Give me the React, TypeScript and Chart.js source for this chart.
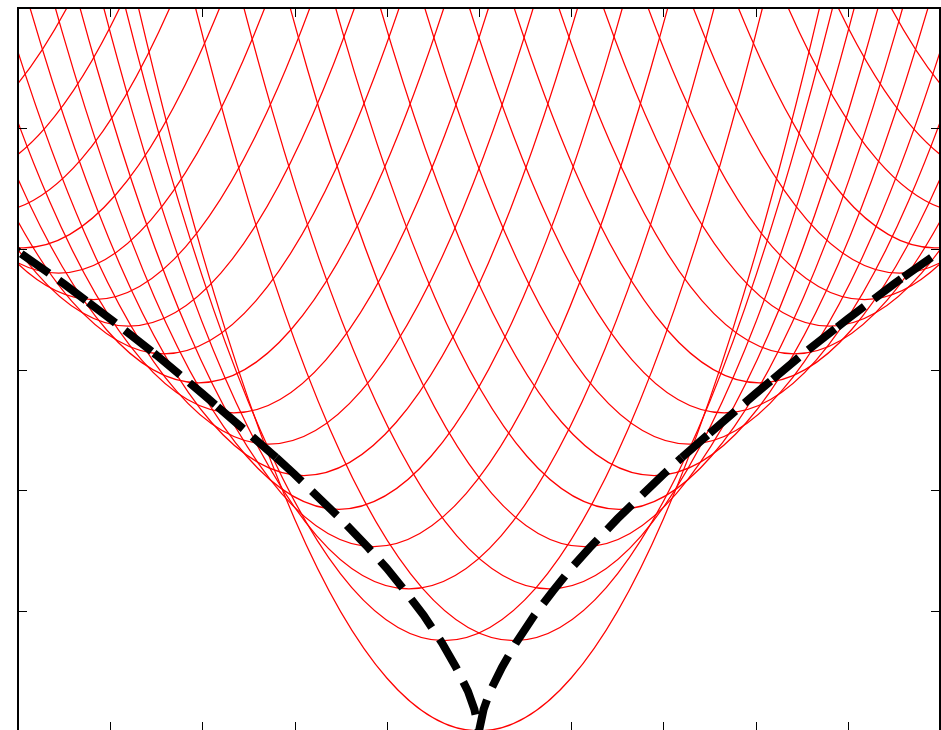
import React, { useEffect, useRef } from "react";
import { Chart, registerables } from "chart.js";

Chart.register(...registerables);

// Vertex positions of the red parabolas (left half; mirrored on the right)
const vertexX = [0, -0.38, -0.76, -1.14, -1.52, -1.9, -2.28, -2.66, -3.04, -3.42, -3.8, -4.18, -4.56, -4.94, -5.32, -5.7, -6.08, -6.46, -6.84];
const vertexY = [0, 0.75, 1.18, 1.53, 1.84, 2.12, 2.38, 2.64, 2.89, 3.13, 3.36, 3.58, 3.8, 4.01, 4.3, 4.57, 4.86, 5.15, 5.45];
const curvature = 0.44;
// sample offsets from the vertex and the squared offsets at each
const offsets = [-6, -5, -4, -3, -2, -1, 0, 1, 2, 3, 4, 5, 6];
const rises = [36, 25, 16, 9, 4, 1, 0, 1, 4, 9, 16, 25, 36];

// Black dashed curve (left arm; right arm is its mirror)
const blackX = [-5.3, -5.0, -4.5, -4.0, -3.5, -3.0, -2.5, -2.2, -2.0, -1.5, -1.2, -1.0, -0.8, -0.6, -0.4, -0.25, -0.12, -0.05, 0];
const blackY = [4.13, 3.98, 3.71, 3.42, 3.12, 2.8, 2.47, 2.27, 2.13, 1.76, 1.52, 1.35, 1.16, 0.96, 0.73, 0.53, 0.33, 0.18, 0];
const outerEnd = 7; // index of x = -2.2 where the dash rhythm changes

const xTicks = [-4, -3, -2, -1, 0, 1, 2, 3, 4];
const yTicks = [1, 2, 3, 4, 5];

function buildRed() {
  const sets: any[] = [];
  const addCurve = (cx: number, cy: number) => {
    sets.push({
      data: offsets.map((o, i) => ({ x: cx + o, y: cy + curvature * rises[i] })),
      borderColor: "rgb(255,0,0)",
      borderWidth: 1.25,
      pointRadius: 0,
      fill: false,
      cubicInterpolationMode: "monotone",
      order: 2,
    });
  };
  vertexX.forEach((c, i) => {
    addCurve(c, vertexY[i]);
    if (c !== 0) addCurve(-c, vertexY[i]);
  });
  return sets;
}

function blackSet(pts: { x: number; y: number }[], dash: number[]) {
  return {
    data: pts,
    borderColor: "#000",
    borderWidth: 8,
    borderDash: dash,
    borderCapStyle: "butt",
    borderJoinStyle: "miter",
    pointRadius: 0,
    fill: false,
    tension: 0,
    order: 0,
  };
}

function buildBlack() {
  const leftOuter: { x: number; y: number }[] = [];
  const rightOuter: { x: number; y: number }[] = [];
  const inner: { x: number; y: number }[] = [];
  for (let i = 0; i <= outerEnd; i++) leftOuter.push({ x: blackX[i], y: blackY[i] });
  for (let i = outerEnd; i >= 0; i--) rightOuter.push({ x: -blackX[i], y: blackY[i] });
  for (let i = outerEnd; i < blackX.length; i++) inner.push({ x: blackX[i], y: blackY[i] });
  for (let i = blackX.length - 2; i >= outerEnd; i--) inner.push({ x: -blackX[i], y: blackY[i] });
  return [
    blackSet(leftOuter, [34, 3, 34, 12]),
    blackSet(inner, [35, 14]),
    blackSet(rightOuter, [34, 3, 34, 12]),
  ];
}

const framePlugin = {
  id: "frame",
  afterDraw(chart: any) {
    const { ctx, chartArea: a, scales } = chart;
    ctx.save();
    ctx.strokeStyle = "#000";
    ctx.lineWidth = 1;
    const tl = 9;
    ctx.beginPath();
    xTicks.forEach((v) => {
      const px = Math.round(scales.x.getPixelForValue(v)) + 0.5;
      ctx.moveTo(px, a.bottom);
      ctx.lineTo(px, a.bottom - tl);
      ctx.moveTo(px, a.top);
      ctx.lineTo(px, a.top + tl);
    });
    yTicks.forEach((v) => {
      const py = Math.round(scales.y.getPixelForValue(v)) + 0.5;
      ctx.moveTo(a.left, py);
      ctx.lineTo(a.left + tl, py);
      ctx.moveTo(a.right, py);
      ctx.lineTo(a.right - tl, py);
    });
    ctx.stroke();
    ctx.lineWidth = 2;
    ctx.strokeRect(a.left, a.top, a.right - a.left, a.bottom - a.top);
    ctx.restore();
  },
};

export default function App() {
  const ref = useRef<HTMLCanvasElement | null>(null);
  useEffect(() => {
    document.documentElement.style.overflow = "hidden";
    document.body.style.overflow = "hidden";
    document.body.style.margin = "0";
    const canvas = ref.current!;
    const chart = new Chart(canvas, {
      type: "line",
      data: { datasets: [...buildBlack(), ...buildRed()] as any },
      options: {
        animation: false,
        responsive: false,
        devicePixelRatio: 1,
        layout: { padding: { left: 18, top: 8, right: 1, bottom: 1 } },
        plugins: { legend: { display: false }, tooltip: { enabled: false } },
        scales: {
          x: { type: "linear", min: -5, max: 5, display: false },
          y: { type: "linear", min: 0, max: 6, display: false },
        },
      },
      plugins: [framePlugin],
    });
    return () => chart.destroy();
  }, []);
  return (
    <div style={{ position: "absolute", left: 0, top: 0, width: 941, height: 732, background: "#fff" }}>
      <canvas ref={ref} width={941} height={732} style={{ width: 941, height: 732, display: "block" }} />
    </div>
  );
}
